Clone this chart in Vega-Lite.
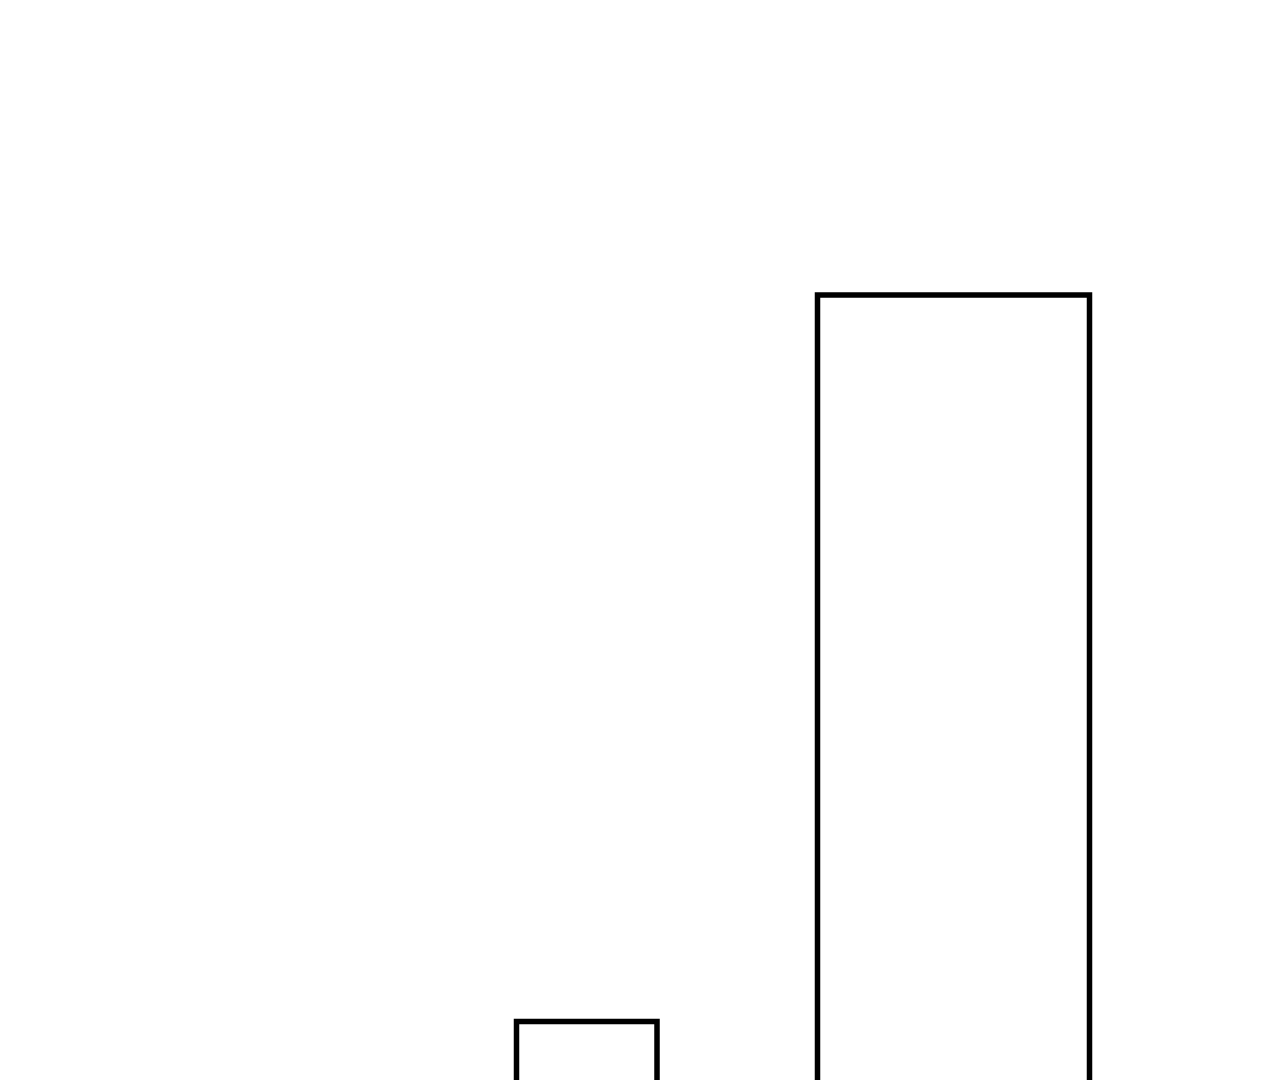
{
  "$schema": "https://vega.github.io/schema/vega-lite/v6.json",
  "width": 1280,
  "height": 1080,
  "autosize": {"type": "fit", "contains": "padding"},
  "padding": 0,
  "background": "white",
  "config": {"view": {"stroke": null}},
  "data": {
    "values": [
      {"start": 516.5, "end": 657, "value": 58.5, "base": -20},
      {"start": 817.5, "end": 1089.5, "value": 785, "base": -20}
    ]
  },
  "mark": {"type": "rect", "fill": "white", "stroke": "black", "strokeWidth": 5.5, "clip": true},
  "encoding": {
    "x": {"field": "start", "type": "quantitative", "scale": {"domain": [0, 1280], "nice": false, "zero": false}, "axis": null},
    "x2": {"field": "end"},
    "y": {"field": "value", "type": "quantitative", "scale": {"domain": [0, 1080], "nice": false, "zero": false}, "axis": null},
    "y2": {"field": "base"}
  }
}
